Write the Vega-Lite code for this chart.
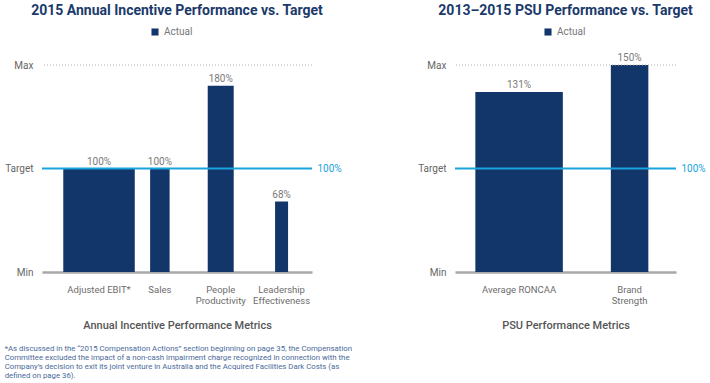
{
  "$schema": "https://vega.github.io/schema/vega-lite/v6.json",
  "background": "white",
  "padding": {"left": 4, "top": 4, "right": 2, "bottom": 4},
  "config": {
    "font": "Roboto",
    "view": {"stroke": null},
    "axis": {"labelFont": "Roboto", "titleFont": "Roboto"},
    "legend": {"labelFont": "Roboto"}
  },
  "title": {
    "text": [
      "*As discussed in the “2015 Compensation Actions” section beginning on page 35, the Compensation",
      " Committee excluded the impact of a non-cash impairment charge recognized in connection with the",
      " Company’s decision to exit its joint venture in Australia and the Acquired Facilities Dark Costs (as",
      " defined on page 36)."
    ],
    "orient": "bottom",
    "anchor": "start",
    "frame": "bounds",
    "fontSize": 7.8,
    "fontWeight": "normal",
    "color": "#4a6a9a",
    "lineHeight": 9,
    "offset": 14
  },
  "datasets": {
    "aip": [
      {"metric": "Adjusted EBIT*", "weight": 55, "level": 100, "pct": "100%", "series": "Actual"},
      {"metric": "Sales", "weight": 15, "level": 100, "pct": "100%", "series": "Actual"},
      {"metric": "People Productivity", "weight": 20, "level": 180, "pct": "180%", "series": "Actual"},
      {"metric": "Leadership Effectiveness", "weight": 10, "level": 68, "pct": "68%", "series": "Actual"}
    ],
    "psu": [
      {"metric": "Average RONCAA", "weight": 70, "level": 174, "pct": "131%", "series": "Actual"},
      {"metric": "Brand Strength", "weight": 30, "level": 200, "pct": "150%", "series": "Actual"}
    ]
  },
  "spacing": 75,
  "resolve": {"scale": {"color": "independent", "size": "independent"}, "legend": {"color": "independent"}},
  "hconcat": [
    {
      "width": 270,
      "height": 207,
      "title": {"text": "2015 Annual Incentive Performance vs. Target", "font": "Roboto", "fontSize": 14, "fontWeight": "bold", "color": "#1b3a6b", "offset": 9},
      "resolve": {"axis": {"y": "independent"}},
      "layer": [
        {
          "data": {"name": "aip"},
          "mark": {"type": "bar"},
          "encoding": {
            "x": {"field": "metric", "type": "nominal", "sort": null,
              "scale": {"paddingInner": 0, "paddingOuter": 0.2185, "align": 1},
              "axis": {"title": "Annual Incentive Performance Metrics", "labelAngle": 0, "ticks": false, "domainColor": "#a8a8a8", "domainWidth": 2.5,
                "labelPadding": 12, "labelFontSize": 9.5, "labelColor": "#6d6d6d", "labelLineHeight": 11.5,
                "labelExpr": "indexof(['People Productivity','Leadership Effectiveness','Brand Strength'], datum.label) >= 0 ? split(datum.label, ' ') : datum.label",
                "titleFontSize": 11, "titleFontWeight": 500, "titleColor": "#555555", "titlePadding": 14.5}},
            "y": {"field": "level", "type": "quantitative", "scale": {"domain": [0, 200], "nice": false},
              "axis": {"values": [0, 100, 200], "labelExpr": "datum.value == 0 ? 'Min' : datum.value == 100 ? 'Target' : 'Max'",
                "title": null, "ticks": false, "domain": false, "grid": false, "labelFontSize": 10, "labelColor": "#666666", "labelPadding": 9}},
            "size": {"field": "weight", "type": "quantitative", "scale": {"domain": [0, 100], "range": [0, 130]}, "legend": null},
            "color": {"field": "series", "type": "nominal", "scale": {"domain": ["Actual"], "range": ["#13366a"]},
              "legend": {"title": null, "orient": "none", "legendX": 108, "legendY": -38, "symbolType": "square", "symbolSize": 50, "labelFontSize": 10, "labelColor": "#777777"}}
          }
        },
        {
          "data": {"name": "aip"},
          "mark": {"type": "text", "baseline": "bottom", "dy": -2, "fontSize": 10, "color": "#7a7a7a"},
          "encoding": {
            "x": {"field": "metric", "type": "nominal", "sort": null},
            "y": {"field": "level", "type": "quantitative", "axis": null},
            "text": {"field": "pct"}
          }
        },
        {
          "data": {"values": [{"level": 200}]},
          "mark": {"type": "rule", "color": "#b0b0b0", "strokeDash": [1, 2], "strokeWidth": 1},
          "encoding": {"y": {"field": "level", "type": "quantitative", "axis": null}}
        },
        {
          "data": {"values": [{"level": 100}]},
          "mark": {"type": "rule", "color": "#1aa3dd", "strokeWidth": 2},
          "encoding": {"y": {"field": "level", "type": "quantitative",
            "axis": {"orient": "right", "values": [100], "labelExpr": "'100%'", "title": null, "ticks": false, "domain": false, "grid": false, "labelFontSize": 10, "labelColor": "#1aa3dd", "labelPadding": 5}}}
        }
      ]
    },
    {
      "width": 221,
      "height": 207,
      "title": {"text": "2013–2015 PSU Performance vs. Target", "font": "Roboto", "fontSize": 14, "fontWeight": "bold", "color": "#1b3a6b", "offset": 9},
      "resolve": {"axis": {"y": "independent"}},
      "layer": [
        {
          "data": {"name": "psu"},
          "mark": {"type": "bar"},
          "encoding": {
            "x": {"field": "metric", "type": "nominal", "sort": null,
              "scale": {"paddingInner": 0.2, "paddingOuter": 0.1, "align": 0.9},
              "axis": {"title": "PSU Performance Metrics", "labelAngle": 0, "ticks": false, "domainColor": "#a8a8a8", "domainWidth": 2.5,
                "labelPadding": 12, "labelFontSize": 9.5, "labelColor": "#6d6d6d", "labelLineHeight": 11.5,
                "labelExpr": "indexof(['People Productivity','Leadership Effectiveness','Brand Strength'], datum.label) >= 0 ? split(datum.label, ' ') : datum.label",
                "titleFontSize": 11, "titleFontWeight": 500, "titleColor": "#555555", "titlePadding": 14.5}},
            "y": {"field": "level", "type": "quantitative", "scale": {"domain": [0, 200], "nice": false},
              "axis": {"values": [0, 100, 200], "labelExpr": "datum.value == 0 ? 'Min' : datum.value == 100 ? 'Target' : 'Max'",
                "title": null, "ticks": false, "domain": false, "grid": false, "labelFontSize": 10, "labelColor": "#666666", "labelPadding": 9}},
            "size": {"field": "weight", "type": "quantitative", "scale": {"domain": [0, 100], "range": [0, 125]}, "legend": null},
            "color": {"field": "series", "type": "nominal", "scale": {"domain": ["Actual"], "range": ["#13366a"]},
              "legend": {"title": null, "orient": "none", "legendX": 88, "legendY": -38, "symbolType": "square", "symbolSize": 50, "labelFontSize": 10, "labelColor": "#777777"}}
          }
        },
        {
          "data": {"name": "psu"},
          "mark": {"type": "text", "baseline": "bottom", "dy": -2, "fontSize": 10, "color": "#7a7a7a"},
          "encoding": {
            "x": {"field": "metric", "type": "nominal", "sort": null},
            "y": {"field": "level", "type": "quantitative", "axis": null},
            "text": {"field": "pct"}
          }
        },
        {
          "data": {"values": [{"level": 200}]},
          "mark": {"type": "rule", "color": "#b0b0b0", "strokeDash": [1, 2], "strokeWidth": 1},
          "encoding": {"y": {"field": "level", "type": "quantitative", "axis": null}}
        },
        {
          "data": {"values": [{"level": 100}]},
          "mark": {"type": "rule", "color": "#1aa3dd", "strokeWidth": 2},
          "encoding": {"y": {"field": "level", "type": "quantitative",
            "axis": {"orient": "right", "values": [100], "labelExpr": "'100%'", "title": null, "ticks": false, "domain": false, "grid": false, "labelFontSize": 10, "labelColor": "#1aa3dd", "labelPadding": 5}}}
        }
      ]
    }
  ]
}
